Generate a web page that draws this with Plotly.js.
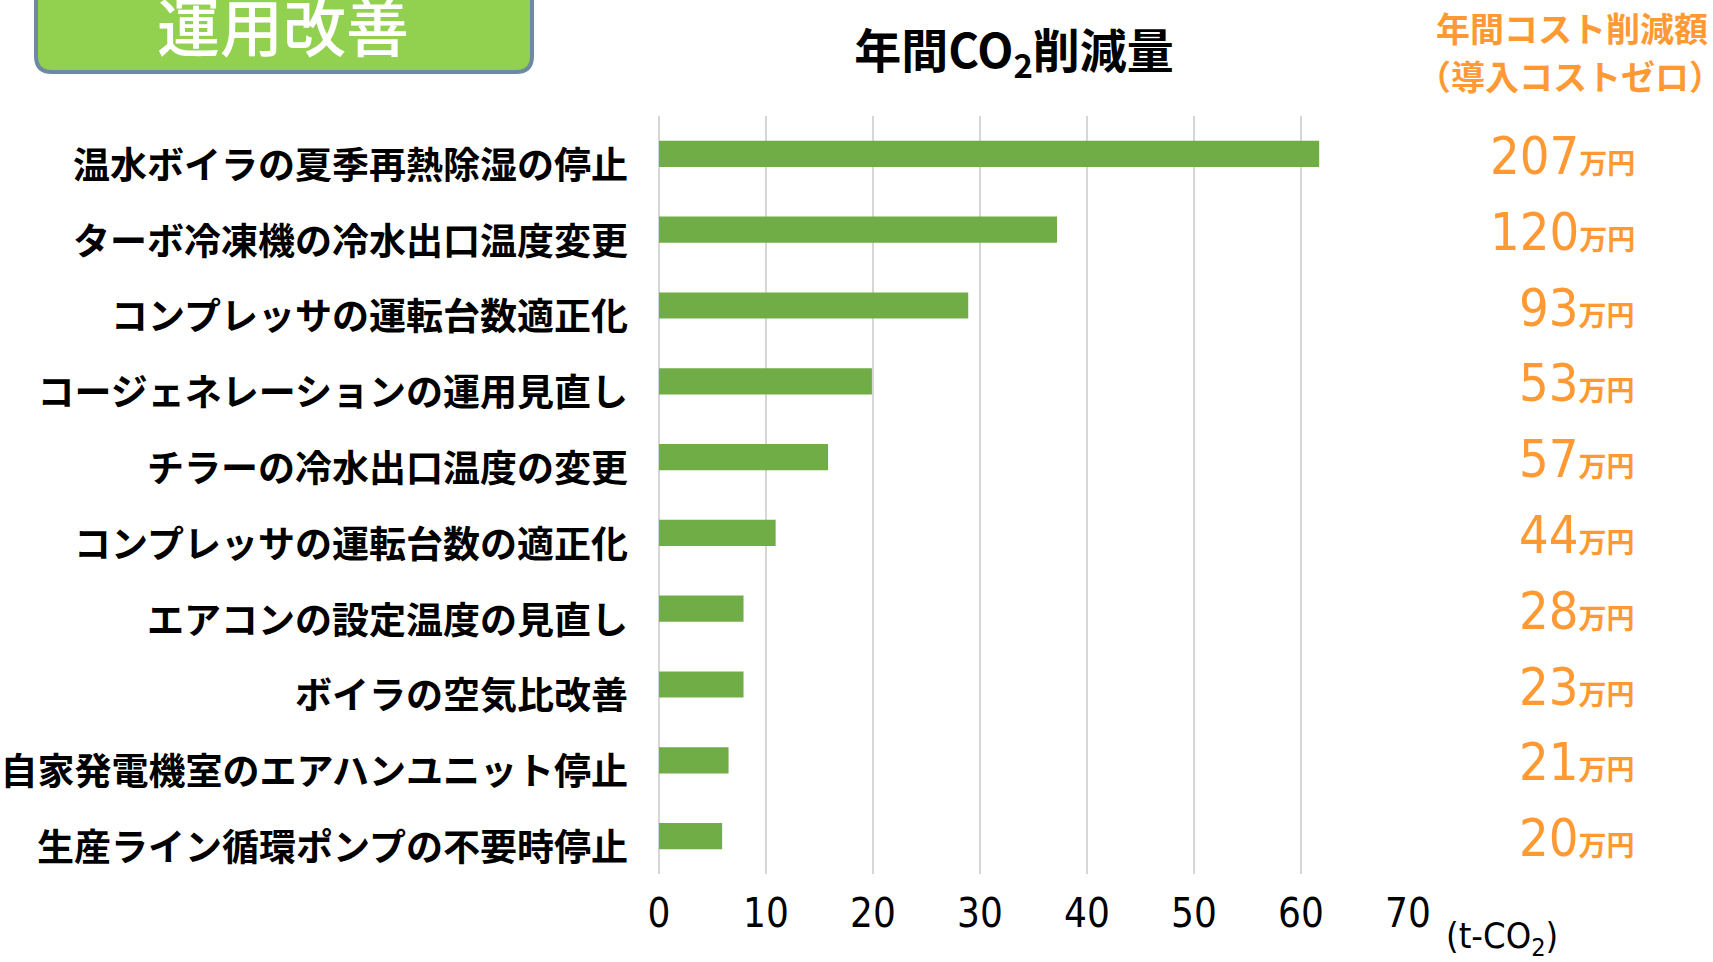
<!DOCTYPE html>
<html>
<head>
<meta charset="utf-8">
<script src="https://cdn.plot.ly/plotly-3.0.1.min.js"></script>
<style>
html,body{margin:0;padding:0;background:#fff;}
#chart{width:1713px;height:962px;}
</style>
</head>
<body>
<div id="chart"></div>
<script>
// ---- data ----
const measures = [
  "温水ボイラの夏季再熱除湿の停止",
  "ターボ冷凍機の冷水出口温度変更",
  "コンプレッサの運転台数適正化",
  "コージェネレーションの運用見直し",
  "チラーの冷水出口温度の変更",
  "コンプレッサの運転台数の適正化",
  "エアコンの設定温度の見直し",
  "ボイラの空気比改善",
  "自家発電機室のエアハンユニット停止",
  "生産ライン循環ポンプの不要時停止"
];
const co2Reduction = [61.7, 37.2, 28.9, 19.9, 15.8, 10.9, 7.9, 7.9, 6.5, 5.9];
const costSaving = [207, 120, 93, 53, 57, 44, 28, 23, 21, 20];
const xTicks = [0, 10, 20, 30, 40, 50, 60, 70];

const chartTitle = "年間CO<sub>2</sub>削減量";
const costHeader1 = "年間コスト削減額";
const costHeader2 = "（導入コストゼロ）";
const unitLabel = "(t-CO<sub>2</sub>)";
const sectionLabel = "運用改善";
const costUnit = "万円";

// ---- layout helpers ----
const W = 1713, H = 962;
const M = {l: 659, r: 305, t: 116, b: 88};
const PW = W - M.l - M.r, PH = H - M.t - M.b;
const X = px => (px - M.l) / PW;
const Y = py => (H - M.b - py) / PH;

const orange = "#FF9933";
const cjk = "Noto Sans CJK JP";
const narrow = "Liberation Sans Narrow, DejaVu Sans Condensed, Roboto Condensed, Roboto, sans-serif";

// rounded box path (paper coords)
function boxPath(x0, x1, yt, yb, r) {
  return `M ${X(x0)},${Y(yt)} L ${X(x0)},${Y(yb - r)} Q ${X(x0)},${Y(yb)} ${X(x0 + r)},${Y(yb)} ` +
         `L ${X(x1 - r)},${Y(yb)} Q ${X(x1)},${Y(yb)} ${X(x1)},${Y(yb - r)} L ${X(x1)},${Y(yt)} Z`;
}

const annotations = [];
annotations.push({
  text: sectionLabel, xref: "paper", yref: "paper", x: X(283), y: Y(23),
  xanchor: "center", yanchor: "middle", showarrow: false,
  font: {family: cjk, size: 63, color: "#ffffff", weight: 500}
});
annotations.push({
  text: costHeader1, xref: "paper", yref: "paper", x: X(1572), y: Y(28),
  xanchor: "center", yanchor: "middle", showarrow: false,
  font: {family: cjk, size: 34, color: orange, weight: "bold"}
});
annotations.push({
  text: costHeader2, xref: "paper", yref: "paper", x: X(1570), y: Y(76),
  xanchor: "center", yanchor: "middle", showarrow: false,
  font: {family: cjk, size: 34, color: orange, weight: "bold"}
});
annotations.push({
  text: unitLabel, xref: "paper", yref: "paper", x: X(1502), y: Y(938),
  xanchor: "center", yanchor: "middle", showarrow: false,
  font: {family: narrow, size: 36, color: "#000000"}
});
measures.forEach((m, i) => {
  annotations.push({
    text: costSaving[i] + "<span style='font-size:28px;font-family:Noto Sans CJK JP;font-weight:bold'>" + costUnit + "</span>",
    xref: "paper", yref: "y", x: X(1637), y: m,
    xanchor: "right", yanchor: "middle", yshift: -2, showarrow: false,
    font: {family: narrow, size: 52, color: orange}
  });
});

const trace = {
  type: "bar", orientation: "h",
  x: co2Reduction, y: measures,
  marker: {color: "#70AD47"},
  hoverinfo: "x+y"
};

const layout = {
  width: W, height: H,
  margin: M,
  paper_bgcolor: "#ffffff", plot_bgcolor: "#ffffff",
  showlegend: false,
  bargap: 0.655,
  title: {
    text: chartTitle, xref: "paper", yref: "container",
    x: X(1014), y: 1 - 52 / H, xanchor: "center", yanchor: "middle",
    font: {family: cjk, size: 47, color: "#000000", weight: "bold"}
  },
  xaxis: {
    range: [0, 70], tickvals: xTicks, ticktext: xTicks.map(String),
    showgrid: true, gridcolor: "#d6d6d6", gridwidth: 2,
    zeroline: true, zerolinecolor: "#d6d6d6", zerolinewidth: 2,
    showline: false, ticks: "",
    ticklabelstandoff: 12,
    tickfont: {family: narrow, size: 40, color: "#000000"},
    fixedrange: true
  },
  yaxis: {
    type: "category", autorange: "reversed",
    showgrid: false, zeroline: false, showline: false, ticks: "",
    ticklabelstandoff: 30, ticklabelshift: -12,
    tickfont: {family: cjk, size: 37, color: "#000000", weight: "bold"},
    fixedrange: true
  },
  shapes: [{
    type: "path", xref: "paper", yref: "paper",
    path: boxPath(36, 532, -30, 72, 16),
    fillcolor: "#92D050", line: {color: "#6E8AA2", width: 4}, layer: "above"
  }],
  annotations: annotations
};

Plotly.newPlot("chart", [trace], layout, {displayModeBar: false, staticPlot: true});
</script>
</body>
</html>
